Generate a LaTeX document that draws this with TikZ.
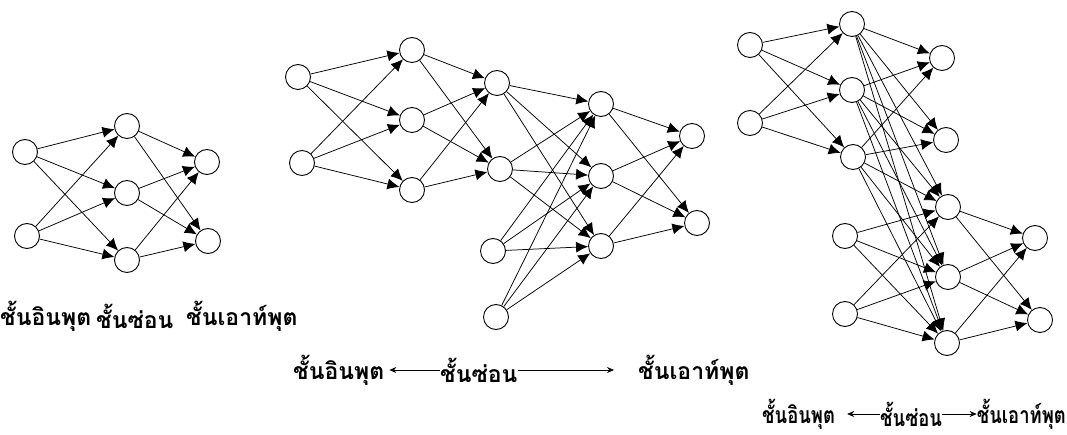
\documentclass[tikz,border=0pt]{standalone}
\usepackage{fontspec}
\newfontfamily\thai[Script=Thai]{Loma}
\newfontfamily\thainarrow[Script=Thai,FakeStretch=0.8]{Loma}
\usetikzlibrary{arrows.meta}
\begin{document}
\begin{tikzpicture}[x=1pt,y=-1pt,
  neuron/.style={circle,draw,line width=0.9pt,minimum size=25pt,inner sep=0pt},
  link/.style={line width=0.75pt,-{Latex[length=12pt,width=11pt]}},
  lbl/.style={inner sep=0pt,font=\thai\bfseries\fontsize{23}{25}\selectfont},
  lblnarrow/.style={inner sep=0pt,font=\thainarrow\bfseries\fontsize{23}{25}\selectfont},
  lblarrow/.style={line width=0.7pt,-{Stealth[length=7pt,width=6pt]}}]
\useasboundingbox (0,0) rectangle (1067,435);

% ---- small network: 2 inputs, 3 hidden, 2 outputs
\node[neuron] (a1) at (25,152) {};
\node[neuron] (a2) at (27,236) {};
\node[neuron] (ah1) at (127,126) {};
\node[neuron] (ah2) at (127,193) {};
\node[neuron] (ah3) at (127,260) {};
\node[neuron] (ao1) at (207,162) {};
\node[neuron] (ao2) at (208,241) {};
\foreach \s in {a1,a2} \foreach \t in {ah1,ah2,ah3} \draw[link] (\s) -- (\t);
\foreach \s in {ah1,ah2,ah3} \foreach \t in {ao1,ao2} \draw[link] (\s) -- (\t);

% ---- stacked network in the middle
\node[neuron] (bi1) at (298,77) {};
\node[neuron] (bi2) at (302,163) {};
\node[neuron] (bh1) at (412,50) {};
\node[neuron] (bh2) at (412,120) {};
\node[neuron] (bh3) at (412,190) {};
\node[neuron] (bg1) at (497,83) {};
\node[neuron] (bg2) at (500,169) {};
\node[neuron] (bx1) at (493,251) {};
\node[neuron] (bx2) at (496,317) {};
\node[neuron] (bk1) at (601,104) {};
\node[neuron] (bk2) at (601,176) {};
\node[neuron] (bk3) at (601,246) {};
\node[neuron] (bo1) at (692,136) {};
\node[neuron] (bo2) at (697,223) {};
\foreach \s in {bi1,bi2} \foreach \t in {bh1,bh2,bh3} \draw[link] (\s) -- (\t);
\foreach \s in {bh1,bh2,bh3} \foreach \t in {bg1,bg2} \draw[link] (\s) -- (\t);
\foreach \s in {bg1,bg2,bx1,bx2} \foreach \t in {bk1,bk2,bk3} \draw[link] (\s) -- (\t);
\foreach \s in {bk1,bk2,bk3} \foreach \t in {bo1,bo2} \draw[link] (\s) -- (\t);

% ---- branched network on the right
\node[neuron] (ci1) at (750,45) {};
\node[neuron] (ci2) at (750,123) {};
\node[neuron] (ch1) at (852,24) {};
\node[neuron] (ch2) at (852,90) {};
\node[neuron] (ch3) at (853,157) {};
\node[neuron] (cg1) at (942,58) {};
\node[neuron] (cg2) at (946,140) {};
\node[neuron] (cx1) at (845,236) {};
\node[neuron] (cx2) at (845,314) {};
\node[neuron] (ck1) at (948,207) {};
\node[neuron] (ck2) at (948,277) {};
\node[neuron] (ck3) at (947,343) {};
\node[neuron] (co1) at (1035,238) {};
\node[neuron] (co2) at (1040,320) {};
\foreach \s in {ci1,ci2} \foreach \t in {ch1,ch2,ch3} \draw[link] (\s) -- (\t);
\foreach \s in {ch1,ch2,ch3} \foreach \t in {cg1,cg2,ck1,ck2,ck3} \draw[link] (\s) -- (\t);
\foreach \s in {cx1,cx2} \foreach \t in {ck1,ck2,ck3} \draw[link] (\s) -- (\t);
\foreach \s in {ck1,ck2,ck3} \foreach \t in {co1,co2} \draw[link] (\s) -- (\t);

% ---- layer captions
\node[lbl,anchor=west] (la1) at (0,316) {ชั้นอินพุต};
\node[lbl,anchor=west] (la2) at (96,316) {ชั้นซ่อน};
\node[lbl,anchor=west] (la3) at (186,316) {ชั้นเอาท์พุต};

\node[lbl,anchor=west] (lb1) at (293,370) {ชั้นอินพุต};
\node[lbl,anchor=west] (lb2) at (440,370) {ชั้นซ่อน};
\node[lbl,anchor=west] (lb3) at (638,370) {ชั้นเอาท์พุต};
\draw[lblarrow] (lb2.west) -- ([xshift=5pt]lb1.east);
\draw[lblarrow] (lb2.east) -- ([xshift=-24pt]lb3.west);

\node[lblnarrow,anchor=west] (lc1) at (762,414) {ชั้นอินพุต};
\node[lblnarrow,anchor=west] (lc2) at (880,414) {ชั้นซ่อน};
\node[lblnarrow,anchor=east] (lc3) at (1066,414) {ชั้นเอาท์พุต};
\draw[lblarrow] (lc2.west) -- ([xshift=12pt]lc1.east);
\draw[lblarrow] (lc2.east) -- (lc3.west);
\end{tikzpicture}
\end{document}
